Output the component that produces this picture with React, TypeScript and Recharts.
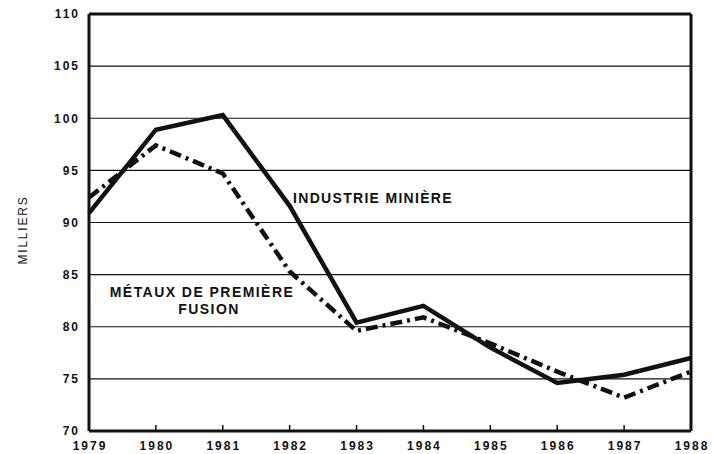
import React from 'react';
import {
  LineChart,
  Line,
  XAxis,
  YAxis,
  CartesianGrid,
  ReferenceLine,
  Customized,
} from 'recharts';

const years = [1979, 1980, 1981, 1982, 1983, 1984, 1985, 1986, 1987, 1988];
const mining = [90.9, 98.9, 100.3, 91.6, 80.4, 82.0, 78.0, 74.6, 75.4, 77.0];
const smelting = [92.4, 97.4, 94.7, 85.3, 79.6, 80.9, 78.4, 75.7, 73.2, 75.7];
const yTicks = [70, 75, 80, 85, 90, 95, 100, 105, 110];

const data = years.map((year, i) => ({
  year,
  mining: mining[i],
  smelting: smelting[i],
}));

const FONT = '"Liberation Sans", Arial, sans-serif';

const YearTick = (props: any) => {
  const { x, y, payload } = props;
  return (
    <g>
      <line x1={x} y1={y} x2={x} y2={y - 6} stroke="#111" strokeWidth={1.5} />
      <text
        x={x + 1}
        y={y + 19}
        textAnchor="middle"
        fontFamily={FONT}
        fontSize={12}
        fontWeight={700}
        letterSpacing={2}
        fill="#111"
      >
        {payload.value}
      </text>
    </g>
  );
};

const Annotations = () => (
  <g fontFamily={FONT} fill="#111">
    <text
      x={23}
      y={230}
      transform="rotate(-90 23 230)"
      textAnchor="middle"
      dominantBaseline="central"
      fontSize={12}
      letterSpacing={1.8}
    >
      MILLIERS
    </text>
    <text x={373} y={203} textAnchor="middle" fontSize={14} fontWeight={700} letterSpacing={1.3}>
      INDUSTRIE MINIÈRE
    </text>
    <text x={202} y={297} textAnchor="middle" fontSize={14} fontWeight={700} letterSpacing={1.45}>
      MÉTAUX DE PREMIÈRE
    </text>
    <text x={209} y={314} textAnchor="middle" fontSize={14} fontWeight={700} letterSpacing={1.45}>
      FUSION
    </text>
  </g>
);

export default function App() {
  return (
    <div style={{ position: 'absolute', left: 0, top: 0, background: '#fff' }}>
      <LineChart
        width={712}
        height={454}
        data={data}
        margin={{ top: 14, right: 21, bottom: 0, left: 0 }}
      >
        <CartesianGrid vertical={false} stroke="#111" strokeWidth={1.2} />
        <XAxis
          dataKey="year"
          type="number"
          domain={[1979, 1988]}
          ticks={years}
          height={23}
          tickSize={0}
          tickMargin={0}
          tickLine={false}
          axisLine={{ stroke: '#111', strokeWidth: 3 }}
          tick={<YearTick />}
          interval={0}
        />
        <YAxis
          domain={[70, 110]}
          ticks={yTicks}
          width={89}
          tickSize={0}
          tickMargin={9}
          tickLine={false}
          axisLine={{ stroke: '#111', strokeWidth: 3 }}
          tick={{ fontFamily: FONT, fontSize: 12, fontWeight: 700, fill: '#111', letterSpacing: 2 }}
          interval={0}
        />
        <ReferenceLine y={110} stroke="#111" strokeWidth={3} />
        <ReferenceLine x={1988} stroke="#111" strokeWidth={3} />
        <Line
          dataKey="smelting"
          type="linear"
          stroke="#111"
          strokeWidth={4.5}
          strokeDasharray="12 5 3 5"
          dot={false}
          isAnimationActive={false}
        />
        <Line
          dataKey="mining"
          type="linear"
          stroke="#111"
          strokeWidth={4.5}
          dot={false}
          isAnimationActive={false}
        />
        <Customized component={Annotations} />
      </LineChart>
    </div>
  );
}
